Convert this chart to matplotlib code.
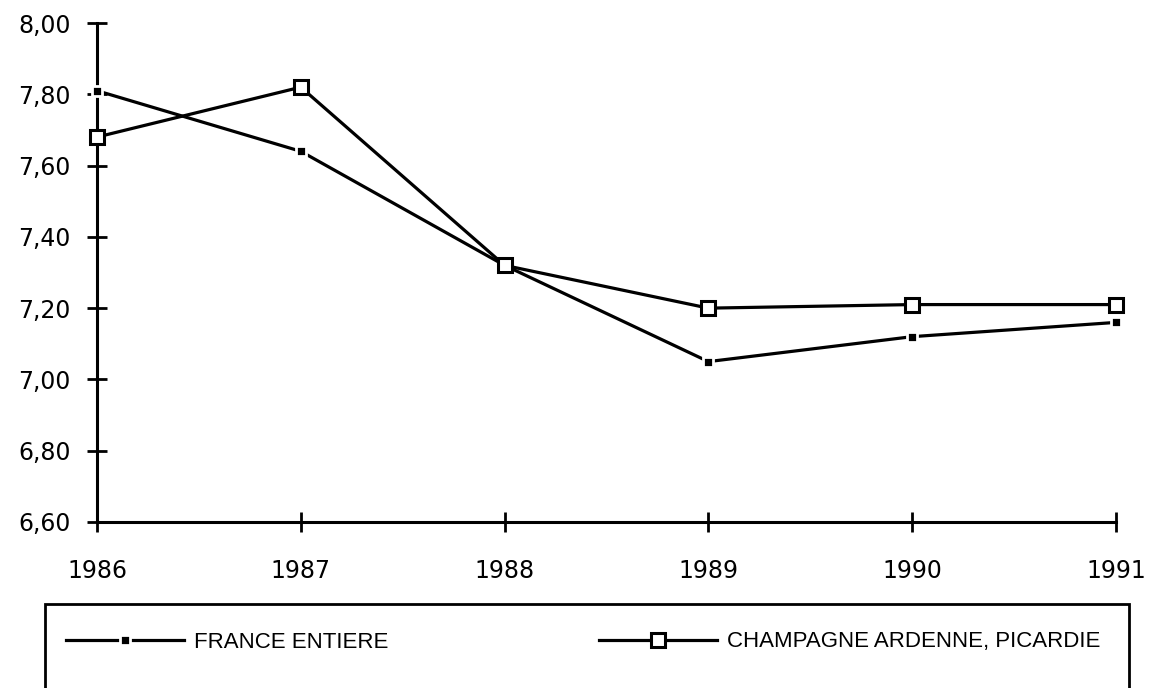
import numpy as np
import matplotlib
matplotlib.use("Agg")
import matplotlib.pyplot as plt
from matplotlib.ticker import FuncFormatter
from matplotlib.patches import Rectangle

# données
years = [1986, 1987, 1988, 1989, 1990, 1991]
france = [7.81, 7.64, 7.32, 7.05, 7.12, 7.16]
champagne = [7.68, 7.82, 7.32, 7.20, 7.21, 7.21]
labels = ["FRANCE ENTIERE", "CHAMPAGNE ARDENNE, PICARDIE"]
yticks = [6.60, 6.80, 7.00, 7.20, 7.40, 7.60, 7.80, 8.00]

fig = plt.figure(figsize=(11.54, 6.88), dpi=100)
ax = fig.add_axes([97 / 1154, 166 / 688, 1019 / 1154, 499 / 688])

l1, = ax.plot(years, france, color="black", lw=2.3, marker="s", ms=7,
              mfc="black", mec="white", mew=2.0, clip_on=False, zorder=3)
l2, = ax.plot(years, champagne, color="black", lw=2.3, marker="s", ms=10,
              mfc="white", mec="black", mew=2.2, clip_on=False, zorder=4)

ax.set_xlim(1986, 1991)
ax.set_ylim(6.6, 8.0)
ax.set_xticks(years)
ax.set_yticks(yticks)
ax.yaxis.set_major_formatter(FuncFormatter(lambda v, p: f"{v:.2f}".replace(".", ",")))

for s in ["top", "right"]:
    ax.spines[s].set_visible(False)
for s in ["left", "bottom"]:
    ax.spines[s].set_linewidth(2.2)

ax.tick_params(axis="both", direction="inout", length=14, width=2.0,
               labelsize=17, labelfontfamily="DejaVu Sans")
ax.tick_params(axis="y", pad=12)
ax.tick_params(axis="x", pad=20)

# légende
fig.patches.append(Rectangle((45 / 1154, -0.05), 1084 / 1154, 0.1721,
                             transform=fig.transFigure, fill=False,
                             edgecolor="black", lw=2.0))
fig.legend([l1, l2], labels, loc="center left", ncol=2,
           bbox_to_anchor=(66 / 1154, 46 / 688), frameon=False,
           borderpad=0, borderaxespad=0, handlelength=5.3,
           handletextpad=0.45, columnspacing=9.5,
           prop={"family": "Liberation Sans", "size": 16})

fig.savefig("out.png", dpi=100)
